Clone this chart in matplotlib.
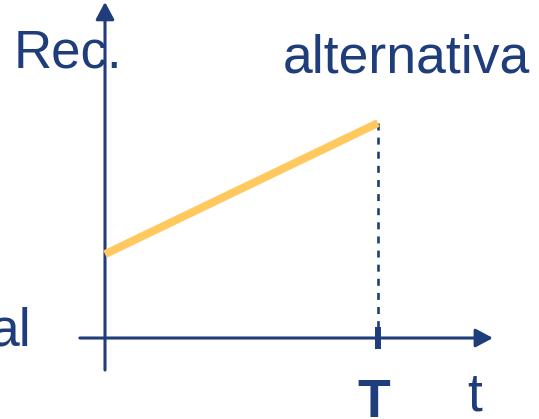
import numpy as np
import matplotlib.pyplot as plt
from matplotlib.patches import FancyArrowPatch

# data: alternative returns grow linearly up to time T
T = 1.0
t = [0.0, T]
rec = [0.39, 1.0]

blue = '#1f3d7b'
orange = '#ffc95f'

plt.rcParams['font.family'] = ['Liberation Sans', 'DejaVu Sans']

fig = plt.figure(figsize=(5.39, 4.19), dpi=100)
ax = fig.add_axes([0, 0, 1, 1])
ax.set_xlim(-0.3846, 1.5897)
ax.set_ylim(-0.3767, 1.5721)
ax.axis('off')

# axes with arrow heads
for (x0, y0), (x1, y1) in [((0, -0.149), (0, 1.563)), ((-0.092, 0), (1.421, 0))]:
    arr = FancyArrowPatch((x0, y0), (x1, y1), arrowstyle='-|>,head_length=10.5,head_width=5.6',
                          mutation_scale=1, color=blue, lw=2.2, shrinkA=0, shrinkB=0)
    ax.add_patch(arr)

# tick at T and dashed guide
ax.plot([T, T], [-0.051, 0.051], color=blue, lw=4.3, solid_capstyle='butt')
ax.plot([T, T], [rec[-1], 0.051], color=blue, lw=1.9, dashes=(2.65, 2.7))

# returns line
ax.plot(t, rec, color=orange, lw=5.8, solid_capstyle='butt', zorder=3)

# labels
ax.text(-0.335, 1.256, 'Rec.', fontsize=38, color=blue, va='baseline', ha='left')
ax.text(0.652, 1.233, 'alternativa', fontsize=38.5, color=blue, va='baseline', ha='left')
ax.text(-0.421, -0.033, 'al', fontsize=38.5, color=blue, va='baseline', ha='left', clip_on=False)
ax.text(0.985, -0.367, 'T', fontsize=38.5, color=blue, va='baseline', ha='center', fontweight='bold')
ax.text(1.355, -0.335, 't', fontsize=38.5, color=blue, va='baseline', ha='center')

fig.savefig('out.png', dpi=100)
